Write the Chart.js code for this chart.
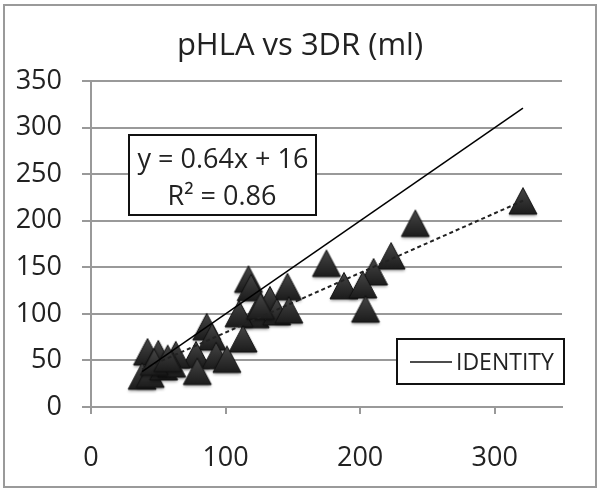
<!DOCTYPE html>
<html>
<head>
<meta charset="utf-8">
<script src="https://cdn.jsdelivr.net/npm/chart.js@4"></script>
<style>
  body { margin: 0; background: #fff; }
</style>
</head>
<body>
<canvas id="myChart" width="600" height="491"></canvas>
<script>
let chartTitle = "pHLA vs 3DR (ml)";
let legendLabel = "IDENTITY";

// pHLA (x) vs 3DR (y)
let xValues = [321, 241, 223, 210, 175, 188, 202, 204, 117, 119, 146, 133, 122, 138, 147, 110, 113, 126,
  86, 90, 78, 93, 101, 79, 42, 50, 63, 38, 44, 54, 60, 47, 57];
let yValues = [221, 197, 162, 145, 154, 130, 131, 105, 137, 128, 129, 115, 99, 102, 104, 100, 73, 108,
  86, 75, 56, 55, 51, 38, 59, 57, 56, 33, 35, 43, 46, 48, 52];

let slope = 0.64;
let intercept = 16;
let rSquared = 0.86;

let xTicks = [0, 100, 200, 300];
let yTicks = [0, 50, 100, 150, 200, 250, 300, 350];

let fontFamily = "'Open Sans', 'DejaVu Sans', sans-serif";
Chart.defaults.font.family = fontFamily;
Chart.defaults.color = "#222";

let ctx = document.getElementById("myChart");

makeTriangle = () => {
  let c = document.createElement("canvas");
  c.width = 36;
  c.height = 36;
  let g = c.getContext("2d");
  let grad = g.createLinearGradient(0, 5, 0, 31);
  grad.addColorStop(0, "#454545");
  grad.addColorStop(1, "#1c1c1c");
  g.shadowColor = "rgba(0,0,0,0.35)";
  g.shadowBlur = 3;
  g.shadowOffsetY = 2;
  g.beginPath();
  g.moveTo(18, 4.5);
  g.lineTo(32, 31);
  g.lineTo(4, 31);
  g.closePath();
  g.fillStyle = grad;
  g.fill();
  g.shadowColor = "transparent";
  g.strokeStyle = "#111";
  g.lineWidth = 1;
  g.stroke();
  return c;
}

let points = xValues.map((x, i) => ({ x: x, y: yValues[i] }));
let minX = Math.min(...xValues);
let maxX = Math.max(...xValues);
let identityLine = [{ x: minX, y: minX }, { x: maxX, y: maxX }];
let trendLine = [
  { x: minX, y: slope * minX + intercept },
  { x: maxX, y: slope * maxX + intercept }
];

// frame, title, equation box and legend box, Excel style
let extras = {
  id: "extras",
  beforeDraw: (chart) => {
    let c = chart.ctx;
    c.save();
    c.fillStyle = "#fff";
    c.fillRect(0, 0, chart.width, chart.height);
    c.restore();
  },
  afterDraw: (chart) => {
    let c = chart.ctx;
    c.save();
    c.strokeStyle = "#9a9a9a";
    c.lineWidth = 2;
    c.strokeRect(4, 5, 592, 482);

    c.fillStyle = "#222";
    c.font = "31px " + fontFamily;
    c.textAlign = "center";
    c.textBaseline = "middle";
    c.fillText(chartTitle, 300, 46);

    // equation
    c.fillStyle = "#fff";
    c.fillRect(129, 135, 187, 80);
    c.strokeStyle = "#111";
    c.lineWidth = 2;
    c.strokeRect(129, 135, 187, 80);
    c.fillStyle = "#222";
    c.font = "27px " + fontFamily;
    c.fillText("y = " + slope + "x + " + intercept, 223, 160);
    c.fillText("R\u00B2 = " + rSquared, 222, 197);

    // legend
    c.fillStyle = "#fff";
    c.fillRect(397, 339, 167, 45);
    c.strokeRect(397, 339, 167, 45);
    c.beginPath();
    c.moveTo(410, 362);
    c.lineTo(452, 362);
    c.lineWidth = 1.5;
    c.stroke();
    c.fillStyle = "#222";
    c.font = "23px " + fontFamily;
    c.textAlign = "left";
    c.fillText(legendLabel, 456, 363);
    c.restore();
  }
};

let myChart = new Chart(ctx, {
  type: "scatter",
  data: {
    datasets: [{
      label: legendLabel,
      data: identityLine,
      showLine: true,
      borderColor: "#000",
      borderWidth: 1.5,
      pointRadius: 0
    }, {
      label: "Linear",
      data: trendLine,
      showLine: true,
      borderColor: "#222",
      borderWidth: 2,
      borderDash: [4, 3],
      pointRadius: 0
    }, {
      label: "3DR",
      data: points,
      pointStyle: makeTriangle(),
      pointRadius: 13,
      showLine: false
    }]
  },
  options: {
    responsive: false,
    animation: false,
    layout: { padding: { left: 0, right: 38, top: 81, bottom: 0 } },
    plugins: {
      legend: { display: false },
      tooltip: { enabled: false },
      title: { display: false }
    },
    scales: {
      x: {
        min: 0,
        max: 350,
        afterBuildTicks: (s) => { s.ticks = xTicks.map(v => ({ value: v })); },
        afterFit: (s) => { s.height = 84; },
        grid: { drawOnChartArea: false, drawTicks: true, tickLength: 7, color: "#999", lineWidth: 2 },
        border: { color: "#999", width: 2 },
        ticks: { font: { size: 27 }, padding: 28, color: "#222", maxRotation: 0 }
      },
      y: {
        min: 0,
        max: 350,
        afterBuildTicks: (s) => { s.ticks = yTicks.map(v => ({ value: v })); },
        afterFit: (s) => { s.width = 91; },
        grid: { color: "#999", lineWidth: 2, tickLength: 9 },
        border: { color: "#999", width: 2 },
        ticks: { font: { size: 27 }, padding: 20, color: "#222" }
      }
    }
  },
  plugins: [extras]
});
</script>
</body>
</html>
